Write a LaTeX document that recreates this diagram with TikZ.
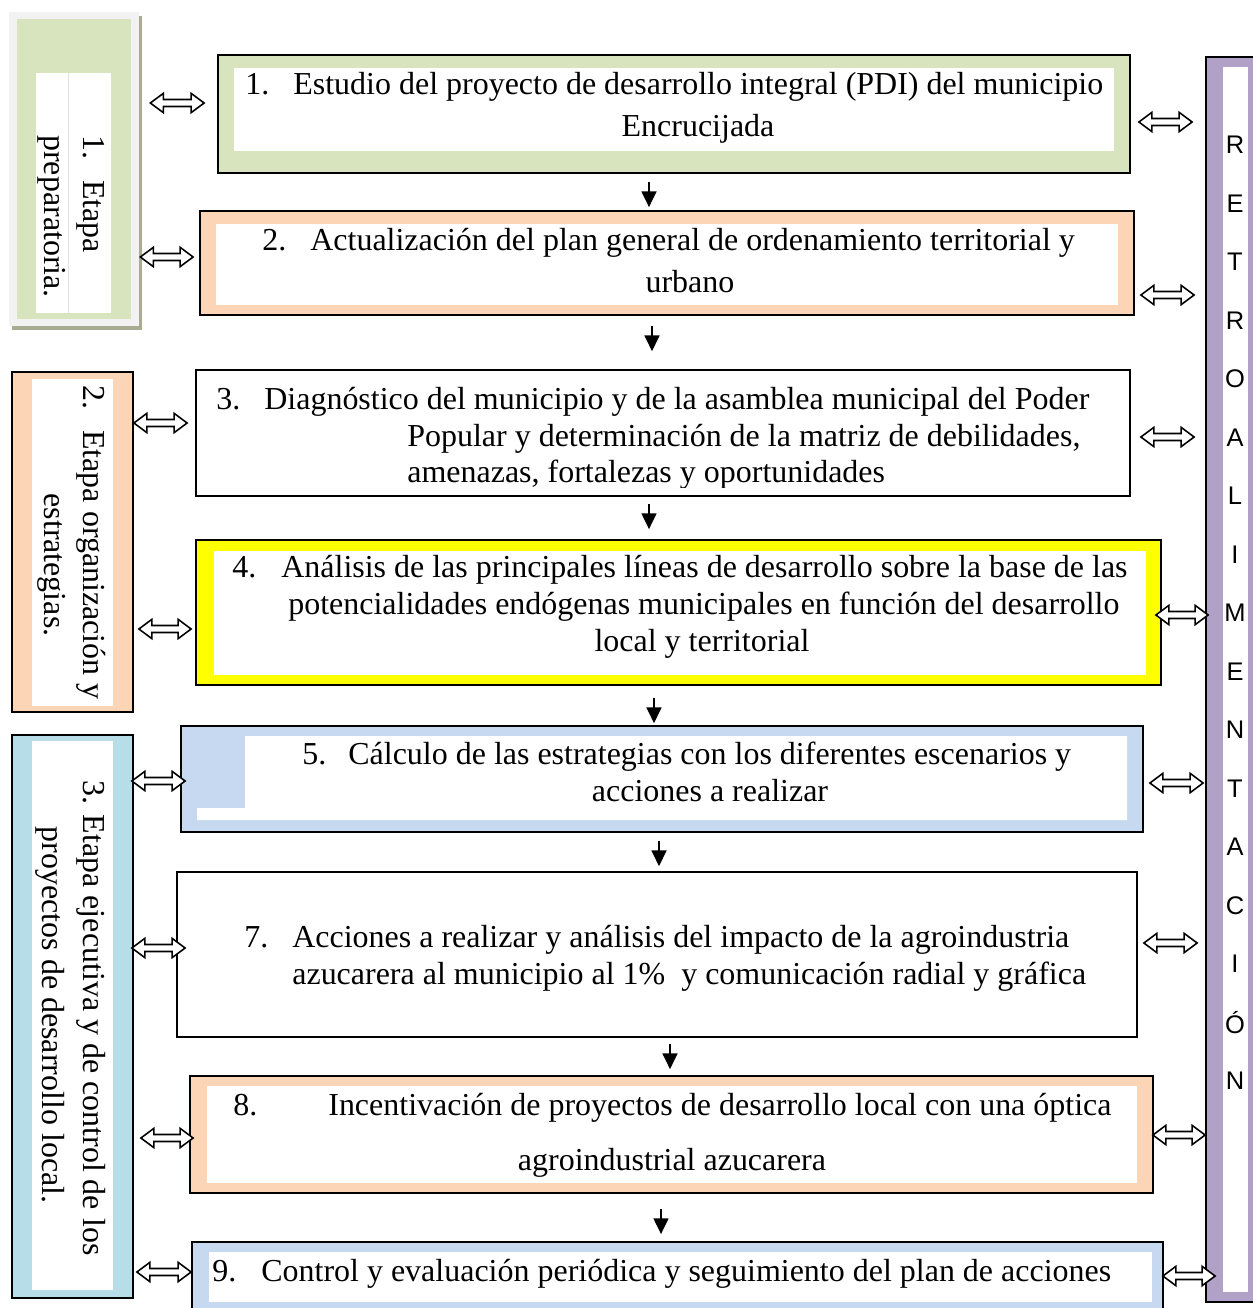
\documentclass[tikz,border=0pt]{standalone}
\usepackage{fontspec}
\setmainfont{Liberation Serif}
\newfontfamily\retrofont{Liberation Sans}
\usetikzlibrary{fit,calc,arrows.meta}
\definecolor{cgreen}{HTML}{D7E4BD}
\definecolor{cpeach}{HTML}{FBD5B5}
\definecolor{cyellow}{HTML}{FFFF00}
\definecolor{cblue}{HTML}{C6D9F1}
\definecolor{caqua}{HTML}{B7DDE8}
\definecolor{cpurple}{HTML}{B2A1C7}
\definecolor{cframe}{HTML}{F2F2F2}
\definecolor{cshadow}{HTML}{A9AC92}
\tikzset{
  boxfr/.style={fit={#1}, inner sep=0pt, draw=black, line width=1pt},
  txt/.style={font=\fontsize{18.2}{22}\selectfont, inner sep=0pt},
  rtxt/.style={font=\retrofont\fontsize{14.5}{17}\selectfont, inner sep=0pt},
  dblarr/.style={draw=black, fill=white, line width=0.9pt, line join=miter},
  downarr/.style={draw=black, line width=1pt, -{Triangle[length=9pt,width=8.5pt]}}
}
% double (hollow) arrow between named nodes: #1 left node, #2 shift, #3 right node, #4 shift, #5 y
\newcommand\dblarrow[5]{%
  \path[dblarr] let \p1=($(#1.east |- 0,#5)+(#2,0)$), \p2=($(#3.west |- 0,#5)+(#4,0)$) in
    (\x1,\y1) -- (\x1+7.4pt,\y1+5.5pt) -- (\x1+7.4pt,\y1+2pt) -- (\x2-7.4pt,\y1+2pt)
    -- (\x2-7.4pt,\y1+5.5pt) -- (\x2,\y1) -- (\x2-7.4pt,\y1-5.5pt) -- (\x2-7.4pt,\y1-2pt)
    -- (\x1+7.4pt,\y1-2pt) -- (\x1+7.4pt,\y1-5.5pt) -- cycle;}
\newcommand\dnarrow[5]{\draw[downarr, shorten <=#4, shorten >=#5] (#1.south -| #3,0) -- (#2.north -| #3,0);}
\begin{document}
\begin{tikzpicture}[x=0.02cm,y=-0.02cm]
\useasboundingbox (0,0) rectangle (1252,1308);

% ---------- stage 1 (left, preparatory)
\fill[cshadow] (12,16) rectangle (142,330);
\node[fit={(9,12)(139,326)}, inner sep=0pt, fill=cframe] (s1) {};
\fill[cgreen] (17,19) rectangle (131,319);
\fill[white] (36,73) rectangle (111,313);
\draw[black!12, line width=0.5pt] (68,73) -- (68,313);
\node[txt, rotate=-90, anchor=mid west] (s1a) at (88,135) {1.};
\node[txt, rotate=-90, anchor=mid west] (s1b) at (88,180) {Etapa};
\node[txt, rotate=-90, anchor=mid west] (s1c) at (49,135) {preparatoria.};

% ---------- stage 2
\node[boxfr={(12,372)(133,712)}, fill=cpeach] (s2) {};
\fill[white] (32,379) rectangle (113,706);
\node[txt, rotate=-90, anchor=mid west] (s2a) at (88,385) {2.};
\node[txt, rotate=-90, anchor=mid west] (s2b) at (88,430) {Etapa organización y};
\node[txt, rotate=-90, anchor=mid] (s2c) at (49,565) {estrategias.};

% ---------- stage 3
\node[boxfr={(12,735)(133,1298)}, fill=caqua] (s3) {};
\fill[white] (32,741) rectangle (113,1290);
\node[txt, rotate=-90, anchor=mid west] (s3a) at (88,780) {3. Etapa ejecutiva y de control de los};
\node[txt, rotate=-90, anchor=mid] (s3b) at (47,1015) {proyectos de desarrollo local.};

% ---------- retroalimentación
\node[boxfr={(1206,57)(1262,1302)}, fill=cpurple] (r) {};
\fill[white] (1223,67) rectangle (1248,1292);
\foreach \l [count=\i] in {R,E,T,R,O,A,L,I,M,E,N,T,A,C,I,Ó,N}{
  \node[rtxt, anchor=center] (r\i) at (1235,{145+58.5*(\i-1)}) {\l};
}

% ---------- box 1
\node[boxfr={(218,55)(1130,173)}, fill=cgreen] (b1) {};
\fill[white] (234,68) rectangle (1114,151);
\node[txt, anchor=mid west] (b1n) at (245,90) {1.};
\node[txt, anchor=mid west] (b1a) at (293,90) {Estudio del proyecto de desarrollo integral (PDI) del municipio};
\node[txt, anchor=mid] (b1b) at (698,132) {Encrucijada};

% ---------- box 2
\node[boxfr={(200,211)(1134,315)}, fill=cpeach] (b2) {};
\fill[white] (216,224) rectangle (1118,305);
\node[txt, anchor=mid west] (b2n) at (262,246) {2.};
\node[txt, anchor=mid west] (b2a) at (310,246) {Actualización del plan general de ordenamiento territorial y};
\node[txt, anchor=mid] (b2b) at (690,288) {urbano};

% ---------- box 3
\node[boxfr={(196,370)(1130,496)}, fill=white] (b3) {};
\begin{scope}
\clip (196,370) rectangle (1130,487);
\node[txt, anchor=mid west] (b3n) at (216,405) {3.};
\node[txt, anchor=mid west] (b3a) at (264,405) {Diagnóstico del municipio y de la asamblea municipal del Poder};
\node[txt, anchor=mid west] (b3b) at (407,442) {Popular y determinación de la matriz de debilidades,};
\node[txt, anchor=mid west] (b3c) at (407,478) {amenazas, fortalezas y oportunidades};
\end{scope}

% ---------- box 4
\node[boxfr={(196,540)(1161,685)}, fill=cyellow] (b4) {};
\fill[white] (214,551) rectangle (1146,675);
\node[txt, anchor=mid west] (b4n) at (232,573) {4.};
\node[txt, anchor=mid west] (b4a) at (281,573) {Análisis de las principales líneas de desarrollo sobre la base de las};
\node[txt, anchor=mid west] (b4b) at (288,610) {potencialidades endógenas municipales en función del desarrollo};
\node[txt, anchor=mid] (b4c) at (702,647) {local y territorial};

% ---------- box 5
\node[boxfr={(181,726)(1143,832)}, fill=cblue] (b5) {};
\fill[white] (245,736) -- (1127,736) -- (1127,820) -- (197,820) -- (197,808) -- (245,808) -- cycle;
\node[txt, anchor=mid west] (b5n) at (302,760) {5.};
\node[txt, anchor=mid west] (b5a) at (348,760) {Cálculo de las estrategias con los diferentes escenarios y};
\node[txt, anchor=mid] (b5b) at (710,797) {acciones a realizar};

% ---------- box 7
\node[boxfr={(177,872)(1137,1037)}, fill=white] (b7) {};
\node[txt, anchor=mid west] (b7n) at (244,943) {7.};
\node[txt, anchor=mid west] (b7a) at (292,943) {Acciones a realizar y análisis del impacto de la agroindustria};
\node[txt, anchor=mid west] (b7b) at (292,980) {azucarera al municipio al 1\%\ \ y comunicación radial y gráfica};

% ---------- box 8
\node[boxfr={(190,1076)(1153,1193)}, fill=cpeach] (b8) {};
\fill[white] (207,1086) rectangle (1137,1183);
\node[txt, anchor=mid west] (b8n) at (233,1111) {8.};
\node[txt, anchor=mid west] (b8a) at (328,1111) {Incentivación de proyectos de desarrollo local con una óptica};
\node[txt, anchor=mid] (b8b) at (672,1166) {agroindustrial azucarera};

% ---------- box 9
\node[boxfr={(192,1242)(1163,1320)}, fill=cblue] (b9) {};
\fill[white] (209,1252) rectangle (1152,1302);
\node[txt, anchor=mid west] (b9n) at (212,1277) {9.};
\node[txt, anchor=mid west] (b9a) at (261,1277) {Control y evaluación periódica y seguimiento del plan de acciones};

% ---------- vertical arrows
\dnarrow{b1}{b2}{649}{4.6pt}{1.7pt}
\dnarrow{b2}{b3}{652}{5.7pt}{10.2pt}
\dnarrow{b3}{b4}{649}{4pt}{5.7pt}
\dnarrow{b4}{b5}{654}{6.8pt}{1.1pt}
\dnarrow{b5}{b7}{659}{4.6pt}{2.8pt}
\dnarrow{b7}{b8}{670}{3.4pt}{3.4pt}
\dnarrow{b8}{b9}{661}{8.5pt}{4pt}

% ---------- left double arrows
\dblarrow{s1}{11}{b1}{-13}{103}
\dblarrow{s1}{1}{b2}{-6}{257}
\dblarrow{s2}{0}{b3}{-8}{423}
\dblarrow{s2}{5}{b4}{-4}{629}
\dblarrow{s3}{-2}{b5}{5}{781}
\dblarrow{s3}{-2}{b7}{9}{948}
\dblarrow{s3}{7}{b8}{4}{1138}
\dblarrow{s3}{3}{b9}{0}{1272}

% ---------- right double arrows
\dblarrow{b1}{8}{r}{-13}{122}
\dblarrow{b2}{6}{r}{-11}{295}
\dblarrow{b3}{10}{r}{-11}{437}
\dblarrow{b4}{-6}{r}{3}{615}
\dblarrow{b5}{6}{r}{-2}{783}
\dblarrow{b7}{6}{r}{-8}{943}
\dblarrow{b8}{-1}{r}{0}{1135}
\dblarrow{b9}{-1}{r}{10}{1276}
\end{tikzpicture}
\end{document}
